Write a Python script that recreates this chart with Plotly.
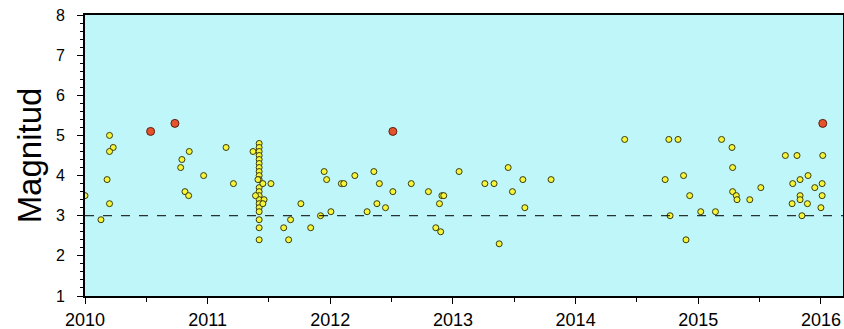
import plotly.graph_objects as go

# Yellow events (M <= 5.0)
years_y = [
    2010.00, 2010.13, 2010.20, 2010.23, 2010.20, 2010.18, 2010.20,
    2010.85, 2010.79, 2010.78, 2010.815, 2010.845, 2010.967,
    2011.15, 2011.21, 2011.37,
    2011.42, 2011.42, 2011.42, 2011.42, 2011.42, 2011.42, 2011.42, 2011.42, 2011.42, 2011.42,
    2011.41, 2011.42, 2011.42, 2011.42, 2011.42, 2011.42, 2011.42, 2011.42, 2011.42, 2011.42, 2011.42,
    2011.45, 2011.516, 2011.39, 2011.46, 2011.45,
    2011.676, 2011.62, 2011.66, 2011.76, 2011.84,
    2011.92, 2012.005, 2011.95, 2011.97, 2012.09, 2012.11, 2012.20, 2012.30, 2012.355,
    2012.38, 2012.40, 2012.45, 2012.51, 2012.66, 2012.80, 2012.89, 2012.91, 2012.925,
    2012.86, 2012.90, 2013.05, 2013.26, 2013.335, 2013.377, 2013.45, 2013.485, 2013.57,
    2013.586, 2013.80,
    2014.40, 2014.73, 2014.76, 2014.77, 2014.835, 2014.88, 2014.90, 2014.93, 2015.02,
    2015.14, 2015.19, 2015.275, 2015.28, 2015.28, 2015.31, 2015.316, 2015.42, 2015.51,
    2015.71, 2015.805, 2015.77, 2015.83, 2015.895, 2015.765, 2015.83, 2015.83, 2015.89,
    2015.845, 2015.95, 2016.01, 2016.01, 2016.00, 2016.015,
]
mags_y = [
    3.5, 2.9, 5.0, 4.7, 4.6, 3.9, 3.3,
    4.6, 4.4, 4.2, 3.6, 3.5, 4.0,
    4.7, 3.8, 4.6,
    4.8, 4.7, 4.6, 4.5, 4.4, 4.3, 4.2, 4.1, 4.0, 3.9,
    3.9, 3.7, 3.6, 3.5, 3.4, 3.3, 3.2, 3.1, 2.9, 2.7, 2.4,
    3.8, 3.8, 3.5, 3.4, 3.3,
    2.9, 2.7, 2.4, 3.3, 2.7,
    3.0, 3.1, 4.1, 3.9, 3.8, 3.8, 4.0, 3.1, 4.1,
    3.3, 3.8, 3.2, 3.6, 3.8, 3.6, 3.3, 3.5, 3.5,
    2.7, 2.6, 4.1, 3.8, 3.8, 2.3, 4.2, 3.6, 3.9,
    3.2, 3.9,
    4.9, 3.9, 4.9, 3.0, 4.9, 4.0, 2.4, 3.5, 3.1,
    3.1, 4.9, 4.7, 4.2, 3.6, 3.5, 3.4, 3.4, 3.7,
    4.5, 4.5, 3.8, 3.9, 4.0, 3.3, 3.5, 3.4, 3.3,
    3.0, 3.7, 3.8, 3.5, 3.2, 4.5,
]

# Red events (M > 5.0)
years_r = [2010.535, 2010.733, 2012.51, 2016.015]
mags_r = [5.1, 5.3, 5.1, 5.3]

x_ticks = [2010, 2011, 2012, 2013, 2014, 2015, 2016]
x_labels = ["2010", "2011", "2012", "2013", "2014", "2015", "2016"]
y_ticks = [1, 2, 3, 4, 5, 6, 7, 8]
threshold = 3.0

fam = "Liberation Sans, Arial, sans-serif"

fig = go.Figure()
fig.add_trace(go.Scatter(
    x=years_y, y=mags_y, mode="markers",
    marker=dict(size=6, color="#F5F53A", line=dict(color="#3a3a10", width=1)),
    hoverinfo="x+y", showlegend=False,
))
fig.add_trace(go.Scatter(
    x=years_r, y=mags_r, mode="markers",
    marker=dict(size=8, color="#E5522B", line=dict(color="#5a2010", width=1)),
    hoverinfo="x+y", showlegend=False,
))
fig.add_shape(type="line", xref="paper", yref="y", x0=0, x1=1, y0=threshold, y1=threshold,
              line=dict(color="black", width=1, dash="dash"))

fig.update_layout(
    width=844, height=329,
    margin=dict(l=85, r=1, t=15, b=33, autoexpand=False),
    paper_bgcolor="white",
    plot_bgcolor="#BEF6FA",
    font=dict(family=fam, size=16, color="black"),
    xaxis=dict(
        range=[2010, 2016.18], tickvals=x_ticks, ticktext=x_labels,
        showgrid=False, zeroline=False,
        showline=True, linecolor="black", linewidth=2, mirror=True,
        ticks="outside", ticklen=6, tickcolor="black", tickwidth=1,
        minor=dict(dtick=0.5, tick0=2010, ticks="outside", ticklen=4, tickcolor="black", showgrid=False),
        tickfont=dict(family=fam, size=18, color="black"),
        automargin=False,
    ),
    yaxis=dict(
        range=[1, 8], tickvals=y_ticks,
        showgrid=False, zeroline=False,
        showline=True, linecolor="black", linewidth=2, mirror=True,
        ticks="outside", ticklen=6, tickcolor="black", tickwidth=1,
        minor=dict(dtick=0.2, tick0=1, ticks="outside", ticklen=3, tickcolor="black", showgrid=False),
        tickfont=dict(family=fam, size=16, color="black"),
        ticklabelstandoff=9,
        automargin=False,
        title=dict(text="Magnitud", font=dict(family=fam, size=33, color="black"), standoff=4),
    ),
)

fig.write_html("out.html", config={"displayModeBar": False},
               post_script="document.body.style.margin='0';")
